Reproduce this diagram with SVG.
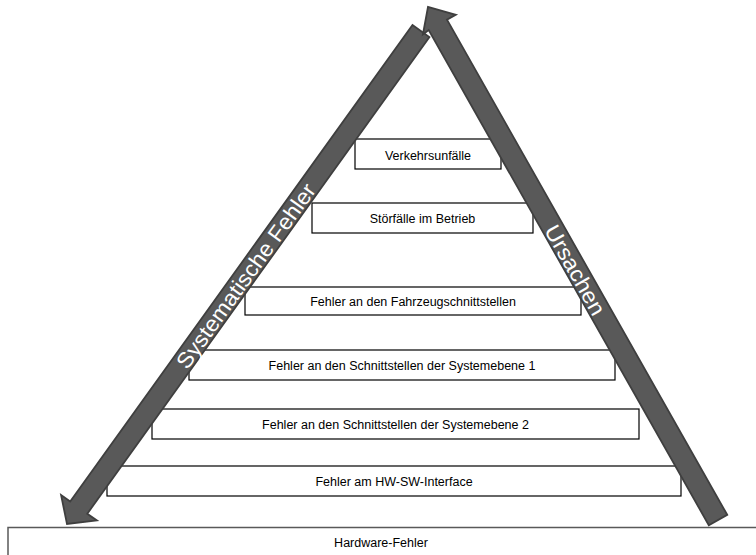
<svg xmlns="http://www.w3.org/2000/svg" width="756" height="555" viewBox="0 0 756 555">
<style>
.box{fill:#fff;stroke:#000;stroke-width:1.2}
.lbl{font-family:"Liberation Sans",Arial,sans-serif;font-size:12.5px;fill:#000;text-anchor:middle;dominant-baseline:central}
.arr{fill:#595959;stroke:#3f3f3f;stroke-width:1.8;stroke-linejoin:miter}
.atxt{font-family:"Liberation Sans",Arial,sans-serif;font-size:22px;fill:#fff;text-anchor:middle;dominant-baseline:central}
</style>
<rect width="756" height="555" fill="#fff"/>
<g id="n7"><rect x="8" y="527.5" width="760" height="40" fill="#fff" stroke="#595959" stroke-width="1.5"/><text class="lbl" x="381" y="543">Hardware-Fehler</text></g>
<g id="n6"><rect class="box" x="107" y="466" width="574" height="30"/><text class="lbl" x="394" y="481.5">Fehler am HW-SW-Interface</text></g>
<g id="n5"><rect class="box" x="152" y="409" width="487" height="30"/><text class="lbl" x="395.5" y="424.5">Fehler an den Schnittstellen der Systemebene 2</text></g>
<g id="n4"><rect class="box" x="189" y="350" width="426" height="30"/><text class="lbl" x="402" y="365.5">Fehler an den Schnittstellen der Systemebene 1</text></g>
<g id="n3"><rect class="box" x="245" y="287" width="336" height="28"/><text class="lbl" x="413" y="301.5">Fehler an den Fahrzeugschnittstellen</text></g>
<g id="n2"><rect class="box" x="312" y="203" width="221" height="30"/><text class="lbl" x="422.5" y="218.5">Störfälle im Betrieb</text></g>
<g id="n1"><rect class="box" x="355" y="139" width="146" height="30"/><text class="lbl" x="428" y="155.5">Verkehrsunfälle</text></g>
<g id="connectors">
<polygon class="arr" points="429.5,37.1 87.3,513.7 96.9,520.5 67,524 61.1,495.1 70.2,501.5 412.5,24.9"/>
<text class="atxt" transform="translate(246,276) rotate(-54.3)" textLength="222" lengthAdjust="spacingAndGlyphs">Systematische Fehler</text>
<polygon class="arr" points="727.2,514.8 447.0,19.7 455.8,14.8 428,7 422.9,34.5 428.7,30.1 708.8,525.2"/>
<text class="atxt" transform="translate(575,270) rotate(60.5)" textLength="100" lengthAdjust="spacingAndGlyphs">Ursachen</text>
</g>
</svg>
